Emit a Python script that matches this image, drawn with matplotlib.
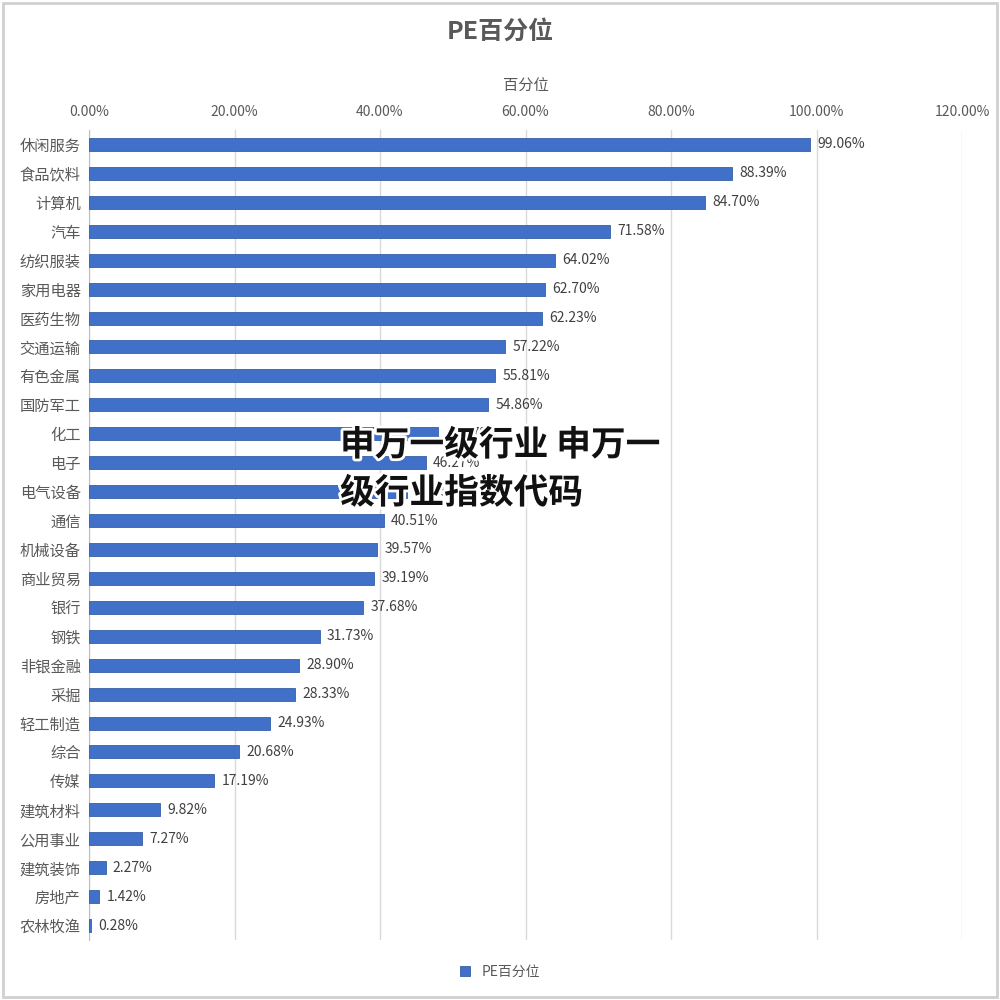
import matplotlib
matplotlib.use("Agg")
import matplotlib.pyplot as plt
from matplotlib.ticker import FuncFormatter, MultipleLocator
from matplotlib.patches import Rectangle
import matplotlib.patheffects as pe

plt.rcParams['font.family'] = ['Noto Sans CJK SC', 'DejaVu Sans']

categories = ["休闲服务", "食品饮料", "计算机", "汽车", "纺织服装", "家用电器", "医药生物",
              "交通运输", "有色金属", "国防军工", "化工", "电子", "电气设备", "通信",
              "机械设备", "商业贸易", "银行", "钢铁", "非银金融", "采掘", "轻工制造",
              "综合", "传媒", "建筑材料", "公用事业", "建筑装饰", "房地产", "农林牧渔"]
values = [99.06, 88.39, 84.70, 71.58, 64.02, 62.70, 62.23, 57.22, 55.81, 54.86,
          47.97, 46.27, 43.75, 40.51, 39.57, 39.19, 37.68, 31.73, 28.90, 28.33,
          24.93, 20.68, 17.19, 9.82, 7.27, 2.27, 1.42, 0.28]
title = "PE百分位"
xlabel = "百分位"
series_name = "PE百分位"
overlay_lines = ["申万一级行业 申万一", "级行业指数代码"]

fig = plt.figure(figsize=(10, 10), dpi=100)
ax = fig.add_axes([0.089, 0.06, 0.873, 0.81])

gray = "#595959"
bar_color = "#4170C8"
n = len(categories)
ypos = list(range(n))
ax.barh(ypos, values, height=0.45, color=bar_color, edgecolor="#3560a8",
        linewidth=0.6, label=series_name, zorder=3)
for y, v in zip(ypos, values):
    ax.text(v + 1.0, y, f"{v:.2f}%", va="center", ha="left", fontsize=10,
            color="#404040", zorder=4)

ax.set_xlim(0, 120)
ax.set_ylim(n - 0.5, -0.5)
ax.xaxis.set_major_locator(MultipleLocator(20))
ax.xaxis.set_major_formatter(FuncFormatter(lambda x, p: f"{x:.2f}%"))
ax.xaxis.tick_top()
ax.xaxis.set_label_position("top")
ax.set_xlabel(xlabel, fontsize=11, color=gray, labelpad=10)
ax.set_yticks(ypos)
ax.set_yticklabels(categories, fontsize=11, color=gray)
ax.tick_params(axis='x', colors=gray, labelsize=10, length=0, pad=8)
ax.tick_params(axis='y', length=0, pad=6)
ax.grid(axis='x', color="#d9d9d9", linewidth=1, zorder=0)
for s in ["top", "right", "bottom"]:
    ax.spines[s].set_visible(False)
ax.spines["left"].set_color("#bfbfbf")

fig.text(0.5, 0.968, title, ha="center", va="center", fontsize=18,
         fontweight="bold", color=gray)
fig.legend(loc="center", bbox_to_anchor=(0.5, 0.028), frameon=False,
           fontsize=10, labelcolor=gray, handlelength=0.7, handleheight=0.7)

halo = [pe.withStroke(linewidth=4, foreground="white")]
fig.text(0.340, 1 - 0.445, overlay_lines[0], ha="left", va="center", fontsize=25,
         fontweight="black", color="#111111", path_effects=halo, zorder=10)
fig.text(0.340, 1 - 0.493, overlay_lines[1], ha="left", va="center", fontsize=25,
         fontweight="black", color="#111111", path_effects=halo, zorder=10)

fig.patches.append(Rectangle((0.003, 0.003), 0.994, 0.994, transform=fig.transFigure,
                             fill=False, edgecolor="#d0d0d0", linewidth=2))
fig.savefig("out.png", dpi=100)
